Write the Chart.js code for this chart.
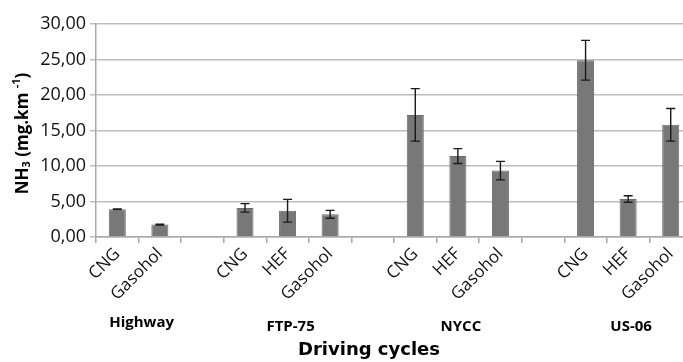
<!DOCTYPE html>
<html>
<head>
<meta charset="utf-8">
<script src="https://cdn.jsdelivr.net/npm/chart.js@4"></script>
<style>
  html, body { margin: 0; padding: 0; overflow: hidden; background: #fff; width: 683px; height: 362px; }
  #wrap { position: relative; width: 692px; height: 362px; }
</style>
</head>
<body>
<div id="wrap"><canvas id="c" width="692" height="362"></canvas></div>
<script>
// Fuel per bar; an empty label leaves a gap between driving cycles
const categories = ['CNG', 'Gasohol', '',
                    'CNG', 'HEF', 'Gasohol', '',
                    'CNG', 'HEF', 'Gasohol', '',
                    'CNG', 'HEF', 'Gasohol'];
// Driving cycle names, one per run of non-empty categories
const cycles = ['Highway', 'FTP-75', 'NYCC', 'US-06'];
// Mean NH3 emission (mg/km)
const nh3 = [3.9, 1.75, null,
             4.1, 3.7, 3.2, null,
             17.2, 11.4, 9.35, null,
             24.9, 5.35, 15.8];
// Standard deviation (mg/km)
const nh3Err = [0.05, 0.05, null,
                0.6, 1.6, 0.55, null,
                3.7, 1.05, 1.3, null,
                2.8, 0.45, 2.3];
const yTicks = [0, 5, 10, 15, 20, 25, 30];

const fmt = v => v.toFixed(2).replace('.', ',');

// Error bars with caps
const errorBars = {
  id: 'errorBars',
  afterDatasetsDraw(chart) {
    const { ctx, scales: { y } } = chart;
    const meta = chart.getDatasetMeta(0);
    ctx.save();
    ctx.strokeStyle = '#1a1a1a';
    ctx.lineWidth = 1.4;
    meta.data.forEach((bar, i) => {
      const v = nh3[i], e = nh3Err[i];
      if (v == null || e == null) return;
      const x = bar.x;
      const yt = y.getPixelForValue(v + e);
      const yb = y.getPixelForValue(v - e);
      ctx.beginPath();
      ctx.moveTo(x, yt); ctx.lineTo(x, yb);
      ctx.moveTo(x - 4.5, yt); ctx.lineTo(x + 4.5, yt);
      ctx.moveTo(x - 4.5, yb); ctx.lineTo(x + 4.5, yb);
      ctx.stroke();
    });
    ctx.restore();
  }
};

// Cycle names under each group, axis titles
const annotations = {
  id: 'annotations',
  afterDraw(chart) {
    const { ctx, scales: { x }, chartArea } = chart;
    ctx.save();
    // group labels
    const groups = [];
    let cur = [];
    categories.forEach((c, i) => {
      if (c === '') { if (cur.length) groups.push(cur); cur = []; }
      else cur.push(i);
    });
    if (cur.length) groups.push(cur);
    ctx.fillStyle = '#000';
    ctx.font = 'bold 15px "Open Sans"';
    ctx.textAlign = 'center';
    ctx.textBaseline = 'middle';
    groups.forEach((g, k) => {
      const cx = (x.getPixelForValue(g[0]) + x.getPixelForValue(g[g.length - 1])) / 2;
      ctx.fillText(cycles[k], cx + 3, k === 0 ? 323 : 327);
    });
    // x title
    ctx.font = 'bold 18px "DejaVu Sans"';
    ctx.fillText('Driving cycles', 369, 350);
    // y title with subscript and superscript
    ctx.translate(23, (chartArea.top + chartArea.bottom) / 2 + 3);
    ctx.rotate(-Math.PI / 2);
    const parts = [
      { t: 'NH', f: 'bold 17px "Open Sans"', dy: 0 },
      { t: '3', f: 'bold 11px "Open Sans"', dy: 4 },
      { t: ' (mg.km ', f: 'bold 17px "Open Sans"', dy: 0 },
      { t: '-1', f: 'bold 11px "Open Sans"', dy: -6 },
      { t: ')', f: 'bold 17px "Open Sans"', dy: 0 }
    ];
    let total = 0;
    parts.forEach(p => { ctx.font = p.f; total += ctx.measureText(p.t).width; });
    let px = -total / 2;
    ctx.textAlign = 'left';
    parts.forEach(p => {
      ctx.font = p.f;
      ctx.fillText(p.t, px, p.dy);
      px += ctx.measureText(p.t).width;
    });
    ctx.restore();
  }
};

new Chart(document.getElementById('c'), {
  type: 'bar',
  data: {
    labels: categories,
    datasets: [{
      data: nh3,
      backgroundColor: '#787878',
      borderColor: '#6c6c6c',
      borderWidth: 1,
      barPercentage: 0.4,
      categoryPercentage: 1
    }]
  },
  options: {
    responsive: false,
    animation: false,
    layout: { padding: { top: 24, left: 0, right: 0, bottom: 0 } },
    plugins: { legend: { display: false }, tooltip: { enabled: false } },
    scales: {
      x: {
        grid: { display: true, drawOnChartArea: false, tickLength: 6, color: '#a8a8a8', lineWidth: 1.5 },
        border: { color: '#a8a8a8', width: 1.5 },
        ticks: {
          autoSkip: false, maxRotation: 45, minRotation: 45,
          font: { family: 'Open Sans', size: 17 }, color: '#111', padding: 1
        },
        afterFit(s) { s.height = 125; }
      },
      y: {
        min: 0, max: 30,
        afterBuildTicks(s) { s.ticks = yTicks.map(v => ({ value: v })); },
        ticks: { callback: v => fmt(v), font: { family: 'Open Sans', size: 18 }, color: '#111', padding: 4 },
        grid: { color: '#bdbdbd', lineWidth: 1.5, tickLength: 6 },
        border: { color: '#a8a8a8', width: 1.5 },
        afterFit(s) { s.width = 96; }
      }
    }
  },
  plugins: [errorBars, annotations]
});
</script>
</body>
</html>
